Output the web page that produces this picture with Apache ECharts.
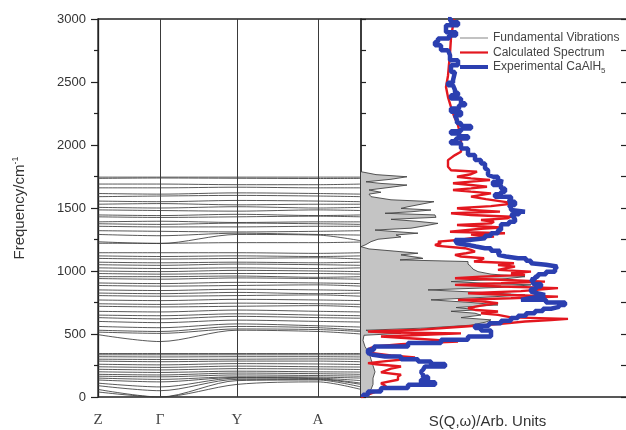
<!DOCTYPE html>
<html><head><meta charset="utf-8">
<script src="https://cdn.jsdelivr.net/npm/echarts@6/dist/echarts.min.js"></script>
<style>html,body{margin:0;padding:0;background:#fff}#c{width:626px;height:430px}</style>
</head><body><div id="c"></div>
<script>
// ---- k-path (left panel) ----
const kLabels = ['Z', 'Γ', 'Y', 'A'];
const kPos = [0, 62, 139, 220, 263];
// phonon bands: frequency (cm-1) at Z, Γ, Y, A, end
const bands = [
  [1745,1745,1745,1745,1745],[1735,1738,1736,1734,1735],[1690,1690,1685,1685,1690],[1660,1660,1665,1660,1660],
  [1615,1610,1620,1615,1610],[1590,1595,1600,1595,1590],[1555,1550,1560,1555,1550],[1530,1535,1525,1530,1530],
  [1505,1500,1510,1500,1505],[1485,1480,1475,1485,1480],[1445,1440,1450,1440,1445],[1430,1425,1430,1435,1430],
  [1390,1395,1385,1390,1390],[1375,1370,1380,1375,1370],[1355,1350,1350,1355,1355],[1320,1315,1310,1315,1320],
  [1290,1280,1300,1290,1285],[1232,1218,1290,1285,1240],[1220,1220,1225,1225,1230],
  [1145,1145,1145,1140,1145],[1120,1115,1120,1115,1120],[1100,1095,1100,1105,1095],[1070,1065,1070,1065,1070],
  [1050,1045,1055,1050,1045],[1025,1020,1025,1020,1025],[1000,995,1005,1000,995],[980,975,980,980,975],
  [955,955,960,950,955],[940,935,945,940,935],[905,900,910,905,900],[885,880,885,890,880],
  [850,845,855,850,845],[825,820,830,820,825],[805,800,805,810,800],[770,765,775,770,765],
  [740,735,745,740,735],[720,715,720,725,715],[680,675,690,680,675],[650,645,660,650,645],
  [630,620,640,630,625],[600,590,610,600,595],[560,550,580,565,555],[530,520,560,550,530],
  [515,505,540,535,520],[495,440,530,520,500],
  [345,345,345,345,345],[335,335,335,335,335],[320,318,320,320,318],[300,298,300,302,300],
  [285,280,285,285,280],[260,255,265,262,258],[240,235,245,240,238],[220,215,225,222,218],
  [200,195,205,200,198],[180,175,190,185,180],[165,160,175,170,165],[150,140,160,158,150],
  [135,120,155,150,130],[110,80,150,145,110],[90,50,140,140,100],[60,0,130,135,80],[40,0,100,120,60]
];

// ---- right panel: S(Q,w) spectra (frequency, intensity) ----
const grayFreq = [0,30,60,100,150,200,250,300,350,400,450,490,505,515,530,547,570,595,612,630,650,665,680,692,710,731,750,771,790,810,830,850,870,890,905,916,935,955,975,995,1015,1035,1055,1075,1088,1100,1114,1128,1141,1160,1175,1193,1210,1233,1252,1270,1286,1300,1315,1325,1340,1360,1378,1395,1410,1426,1445,1458,1470,1484,1497,1510,1530,1550,1565,1590,1610,1625,1643,1665,1682,1695,1708,1728,1748,1765,1788];
const grayInt  = [0,6,10,12,12,14,12,10,8,4,2,3,40,10,5,64,110,125,130,100,120,114,90,117,95,137,110,70,120,164,120,67,140,170,120,90,140,164,130,117,112,110,107,107,39,62,60,40,57,30,8,0,5,10,17,40,35,57,30,14,50,65,77,55,30,75,74,24,50,70,40,47,60,73,30,10,8,20,8,30,46,20,5,30,46,15,0];

const redFreq = [0,18,58,85,110,137,163,177,195,208,225,242,260,269,285,300,314,330,350,375,390,401,420,441,460,480,494,505,512,520,535,559,580,599,610,620,632,652,665,678,690,705,725,745,760,771,784,797,810,824,840,864,877,890,903,916,930,943,955,969,982,995,1009,1022,1035,1048,1062,1075,1088,1101,1115,1128,1141,1154,1168,1181,1199,1207,1220,1233,1248,1260,1273,1290,1300,1312,1325,1335,1345,1365,1378,1391,1405,1418,1431,1445,1458,1471,1485,1498,1515,1537,1550,1570,1590,1616,1630,1643,1656,1669,1682,1696,1709,1722,1735,1748,1768,1788,1800,1827,1880,1920,1946,2054,2157,2230,2300,2380,2460,2550,2640,2727,2850,2950,3000];
const redInt  = [0,7,20,25,20,37,37,40,20,24,30,40,15,7,25,45,54,30,10,7,10,14,40,97,60,20,64,100,30,7,60,104,140,164,190,207,150,137,120,137,115,107,120,137,120,97,150,197,150,107,160,197,140,94,140,184,140,94,120,164,150,170,137,145,154,137,153,113,120,123,100,94,105,114,110,104,77,74,80,77,100,110,133,110,144,89,87,120,140,96,130,133,120,146,150,110,90,139,110,96,130,154,152,125,110,130,110,92,110,126,110,92,110,129,110,96,110,116,90,87,87,94,100,100,97,93,90,87,85,87,88,89,90,92,93];

const blueFreq = [0,18,44,71,98,118,137,160,177,200,216,242,262,282,300,322,335,349,375,401,428,454,480,507,527,547,566,586,606,626,645,665,683,700,715,731,750,771,785,797,810,825,837,857,877,897,916,935,955,975,995,1015,1035,1050,1062,1081,1101,1115,1128,1141,1160,1181,1194,1207,1220,1233,1247,1260,1280,1300,1326,1352,1372,1391,1411,1431,1451,1471,1484,1500,1524,1550,1563,1590,1610,1629,1655,1682,1708,1722,1748,1762,1801,1815,1854,1880,1920,1973,2013,2030,2052,2070,2092,2110,2131,2150,2175,2197,2237,2263,2290,2316,2332,2369,2395,2415,2435,2474,2495,2514,2580,2633,2673,2712,2752,2792,2818,2845,2870,2895,2925,2950,2975,3000];
const blueInt  = [2,7,20,47,74,60,67,62,60,62,64,84,70,57,40,24,12,7,13,47,80,107,130,130,120,114,128,140,150,157,165,174,182,190,198,204,185,160,170,177,184,175,170,175,180,172,170,174,177,185,194,196,197,185,170,165,157,145,137,139,130,124,115,107,96,94,110,124,130,137,140,140,148,154,152,150,158,164,150,148,154,147,150,134,140,144,140,132,142,137,132,127,126,124,120,114,107,100,90,95,107,98,90,100,110,100,96,94,100,90,98,104,100,90,97,94,92,87,92,94,90,97,89,87,80,74,77,88,95,85,85,97,90,87];

const seriesNames = ['Fundamental Vibrations', 'Calculated Spectrum', 'Experimental CaAlH5'];

const pairs = (fs, is) => fs.map((f, i) => [is[i], f]);
const grayData = pairs(grayFreq, grayInt);

const series = [];
bands.forEach(b => series.push({
  type: 'line', xAxisIndex: 0, yAxisIndex: 0, silent: true, symbol: 'none', smooth: 0.3,
  data: b.map((v, i) => [kPos[i], v]),
  lineStyle: { color: '#3c3c3c', width: 1, opacity: 0.85 }, z: 2
}));
series.push({
  type: 'line', xAxisIndex: 0, yAxisIndex: 0, silent: true, symbol: 'none', data: [],
  markLine: { silent: true, symbol: ['none', 'none'], label: { show: false },
    lineStyle: { color: '#3a3a3a', width: 1, type: 'solid' },
    data: kPos.slice(1, 4).map(k => ({ xAxis: k })) }
});
series.push({
  type: 'custom', xAxisIndex: 1, yAxisIndex: 1, silent: true, data: [[0, 0]], z: 1,
  renderItem: (params, api) => {
    const pts = grayData.map(p => api.coord(p));
    pts.unshift(api.coord([0, grayFreq[0]]));
    pts.push(api.coord([0, grayFreq[grayFreq.length - 1]]));
    return { type: 'polygon', shape: { points: pts }, style: { fill: '#c4c4c4', stroke: null } };
  }
});
series.push({
  name: seriesNames[0], type: 'line', xAxisIndex: 1, yAxisIndex: 1, symbol: 'none',
  data: grayData, lineStyle: { color: '#444', width: 0.9 }, itemStyle: { color: '#999' }, z: 3
});
series.push({
  name: seriesNames[1], type: 'line', xAxisIndex: 1, yAxisIndex: 1, symbol: 'none',
  data: pairs(redFreq, redInt), lineStyle: { color: '#e3171f', width: 2.4 }, itemStyle: { color: '#e3171f' }, z: 4
});
series.push({
  name: seriesNames[2], type: 'line', xAxisIndex: 1, yAxisIndex: 1, symbol: 'none', step: 'start',
  data: pairs(blueFreq, blueInt), lineStyle: { color: '#2b3fb0', width: 4.5 }, itemStyle: { color: '#2b3fb0' }, z: 5
});

const chart = echarts.init(document.getElementById('c'), null, { renderer: 'canvas' });
const font = 'Liberation Sans, Arial, sans-serif';
chart.setOption({
  animation: false,
  backgroundColor: '#fff',
  grid: [
    { left: 98, top: 19, width: 263, height: 378, show: true, borderColor: '#222', borderWidth: 1.3, outerBoundsMode: 'none', containLabel: false },
    { left: 361, top: 19, width: 266, height: 378, show: true, borderColor: '#222', borderWidth: 1.3, outerBoundsMode: 'none', containLabel: false }
  ],
  xAxis: [
    { type: 'value', gridIndex: 0, min: 0, max: kPos[4], splitLine: { show: false },
      axisLine: { show: false }, axisTick: { show: false },
      axisLabel: { customValues: kPos.slice(0, 4), formatter: v => kLabels[kPos.indexOf(v)],
        fontFamily: 'Liberation Serif, serif', fontSize: 15, color: '#444', margin: 16 } },
    { type: 'value', gridIndex: 1, min: 0, max: 266, splitLine: { show: false },
      axisLine: { show: false }, axisTick: { show: false }, axisLabel: { show: false },
      name: 'S(Q,ω)/Arb. Units', nameLocation: 'middle', nameGap: 17,
      nameTextStyle: { fontFamily: font, fontSize: 15, color: '#333', padding: [0, 13, 0, 0] } }
  ],
  yAxis: [
    { type: 'value', gridIndex: 0, min: 0, max: 3000, interval: 500, splitLine: { show: false },
      axisLine: { show: true, lineStyle: { color: '#222', width: 1.3 } },
      axisTick: { show: true, length: 7, lineStyle: { color: '#222', width: 1.2 } },
      minorTick: { show: true, splitNumber: 2, length: 4, lineStyle: { color: '#222', width: 1.2 } },
      axisLabel: { fontFamily: font, fontSize: 13, color: '#333', margin: 12, formatter: v => String(v) },
      name: 'Frequency/cm{sup|-1}', nameLocation: 'middle', nameGap: 70, nameRotate: 90,
      nameTextStyle: { fontFamily: font, fontSize: 15, color: '#333',
        rich: { sup: { fontFamily: font, fontSize: 9, color: '#333', verticalAlign: 'top', padding: [0, 0, 8, 0] } } } },
    { type: 'value', gridIndex: 1, min: 0, max: 3000, interval: 250, position: 'left', splitLine: { show: false },
      axisLine: { show: false }, axisLabel: { show: false },
      axisTick: { show: true, inside: true, length: 5, lineStyle: { color: '#222', width: 1.2 } } },
    { type: 'value', gridIndex: 1, min: 0, max: 3000, interval: 250, position: 'right', splitLine: { show: false },
      axisLine: { show: false }, axisLabel: { show: false },
      axisTick: { show: true, inside: true, length: 6, lineStyle: { color: '#222', width: 1.2 } } }
  ],
  legend: {
    data: [
      { name: seriesNames[0], lineStyle: { color: '#999', width: 1.2 } },
      { name: seriesNames[1], lineStyle: { color: '#e3171f', width: 2.2 } },
      { name: seriesNames[2], lineStyle: { color: '#2b3fb0', width: 4 } }
    ],
    orient: 'vertical', left: 458, top: 32, padding: 0,
    itemWidth: 28, itemHeight: 12, itemGap: 2.5,
    itemStyle: { opacity: 0, borderWidth: 0 },
    formatter: n => n === seriesNames[2] ? 'Experimental CaAlH{sub|5}' : n,
    textStyle: { fontFamily: font, fontSize: 12, color: '#444',
      rich: { sub: { fontFamily: font, fontSize: 8, color: '#444', verticalAlign: 'bottom', padding: [7, 0, 0, 0] } } }
  },
  series: series
});
</script></body></html>
